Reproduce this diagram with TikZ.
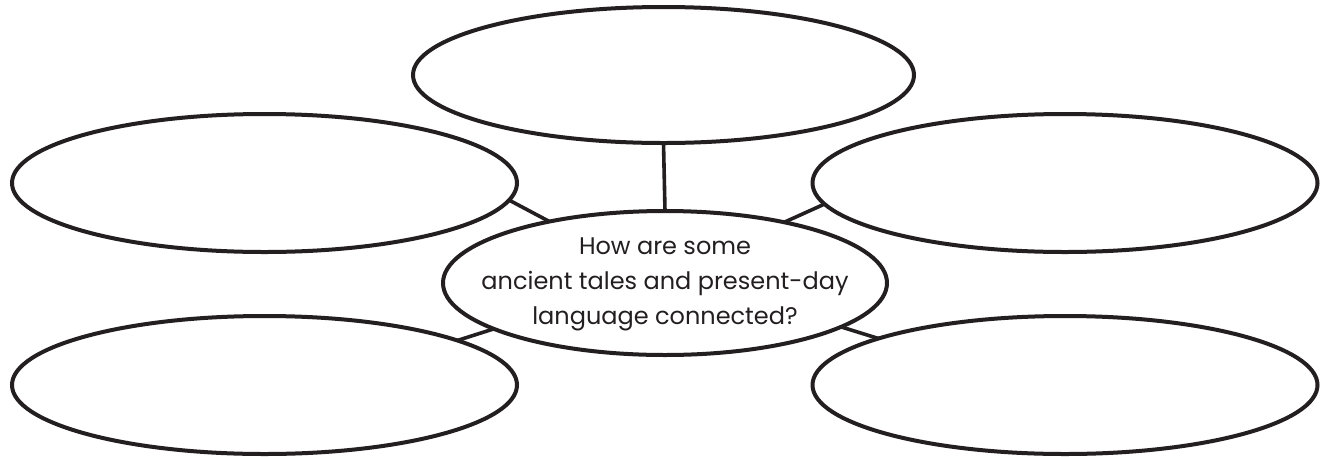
\documentclass[tikz,border=0pt]{standalone}
\usepackage{fontspec}
\setmainfont{Poppins}
\usetikzlibrary{shapes.geometric}
\definecolor{ink}{HTML}{231F20}
\tikzset{
  bubble/.style={draw=ink, ellipse, line width=2pt, inner sep=0pt, outer sep=0pt, fill=white},
  side/.style={bubble, minimum width=252.5pt, minimum height=69pt},
  link/.style={draw=ink, line width=1.8pt}
}
\begin{document}
\begin{tikzpicture}[x=0.5pt,y=-0.5pt]
\useasboundingbox (0,0) rectangle (1323,456);
\node[bubble, minimum width=250.5pt, minimum height=68pt] (top) at (663.5,75) {};
\node[side] (lu) at (264.5,183) {};
\node[side] (ru) at (1065,183) {};
\node[side] (ll) at (264.5,385) {};
\node[side] (rl) at (1065,385) {};
\node[bubble, minimum width=222pt, minimum height=72pt] (c) at (665,283) {};
\node[text=ink, align=center, inner sep=0pt,
      font=\fontsize{12pt}{17.5pt}\selectfont] (ctext) at (665,284)
  {How are some\\ancient tales and present-day\\language connected?};
\draw[link] (top.south) -- (c.north);
\draw[link] (lu.-4) -- (c.152.7);
\draw[link] (ru.-175.5) -- (c.27.7);
\draw[link] (ll.13.9) -- (c.-165.4);
\draw[link] (rl.166.3) -- (c.-14.6);
\end{tikzpicture}
\end{document}
